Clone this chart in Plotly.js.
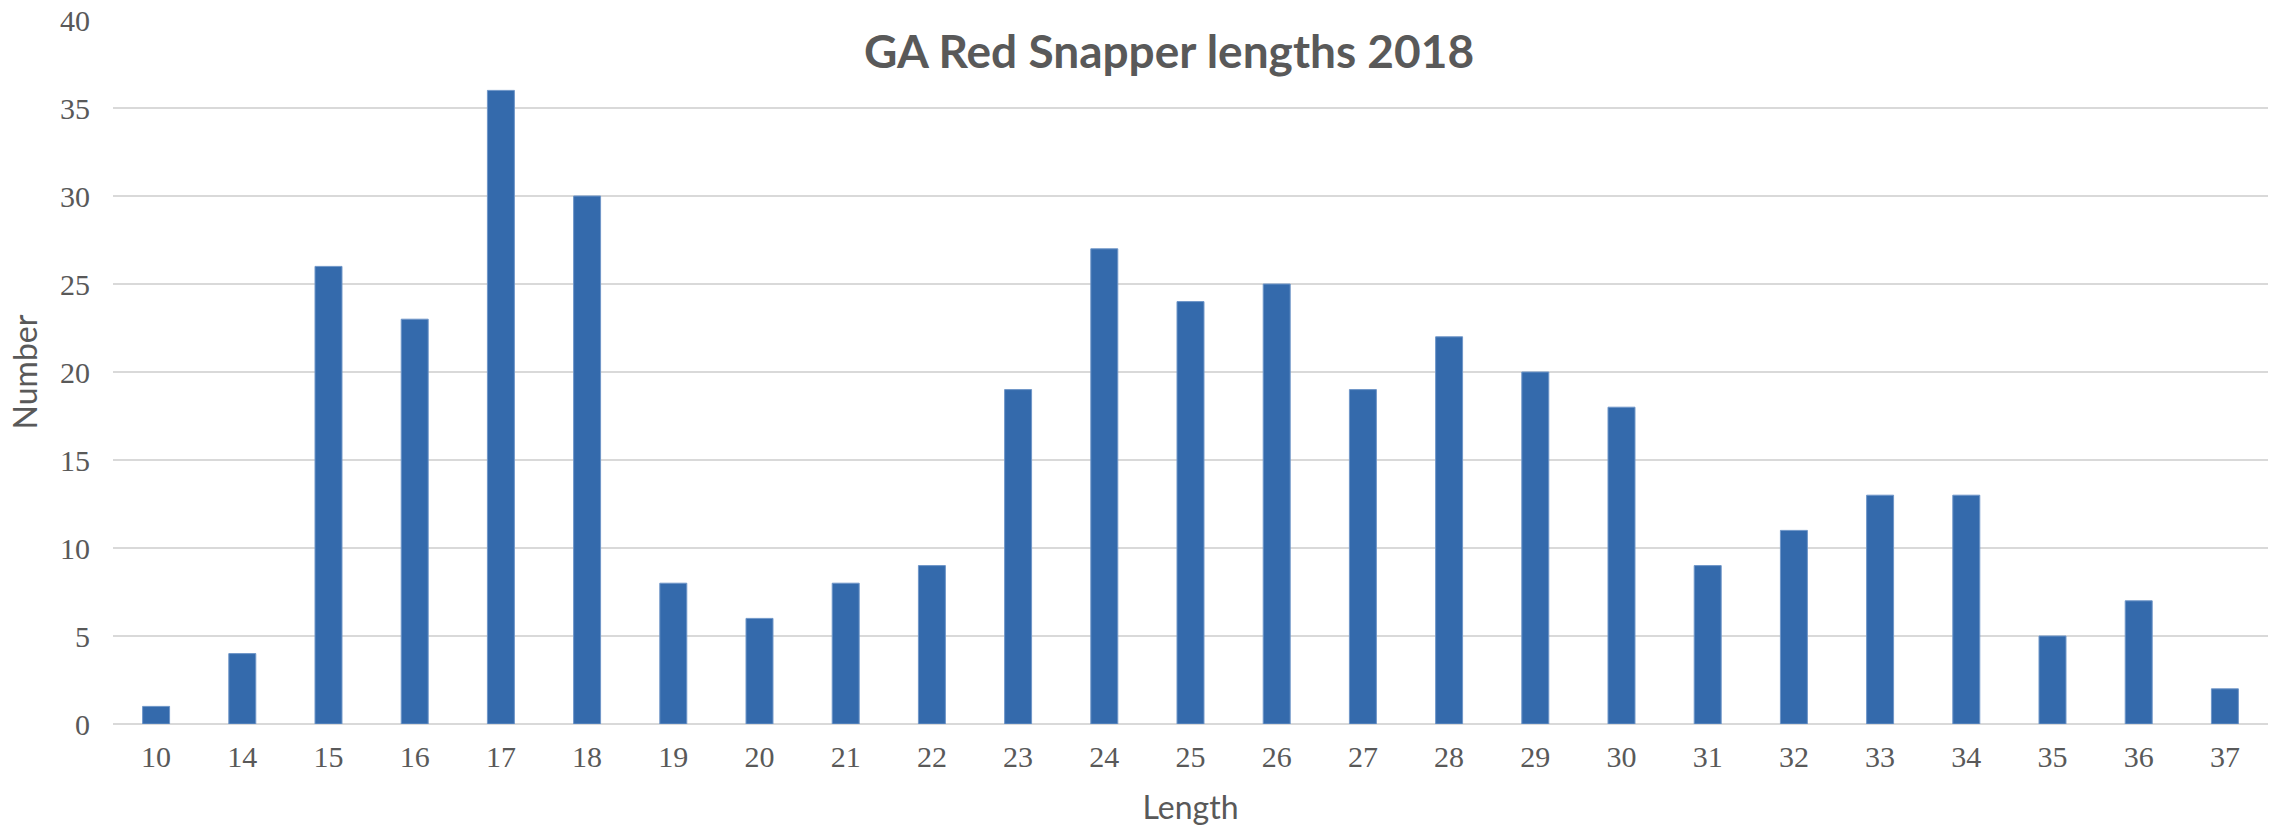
<!DOCTYPE html>
<html>
<head>
<meta charset="utf-8">
<script src="https://cdn.plot.ly/plotly-3.0.1.min.js"></script>
<style>
  html, body { margin: 0; padding: 0; background: #fff; }
  #chart { width: 2275px; height: 828px; }
</style>
</head>
<body>
<div id="chart"></div>
<script>
// fish length (inches) and count
const lengths = ['10', '14', '15', '16', '17', '18', '19', '20', '21', '22', '23', '24', '25',
                 '26', '27', '28', '29', '30', '31', '32', '33', '34', '35', '36', '37'];
const counts = [1, 4, 26, 23, 36, 30, 8, 6, 8, 9, 19, 27, 24,
                25, 19, 22, 20, 18, 9, 11, 13, 13, 5, 7, 2];
const yTicks = [0, 5, 10, 15, 20, 25, 30, 35, 40];

const textGray = '#595959';
const gridGray = '#d9d9d9';

const trace = {
    x: lengths,
    y: counts,
    type: 'bar',
    marker: { color: '#346aac', line: { color: '#6f96c8', width: 1 } },
    hoverinfo: 'x+y'
};

const layout = {
    width: 2275,
    height: 828,
    margin: { l: 113, r: 7, t: 20, b: 104 },
    paper_bgcolor: '#ffffff',
    plot_bgcolor: '#ffffff',
    bargap: 0.687,
    showlegend: false,
    title: {
        text: '<b>GA Red Snapper lengths 2018</b>',
        font: { family: 'Lato, sans-serif', size: 46, color: textGray },
        xref: 'container', x: 1169 / 2275, xanchor: 'center',
        yref: 'container', y: 1 - 52 / 828, yanchor: 'middle'
    },
    xaxis: {
        type: 'category',
        tickfont: { family: 'Liberation Serif, serif', size: 30, color: textGray },
        ticks: '',
        ticklabelstandoff: 12,
        showgrid: false,
        zeroline: false,
        showline: false,
        title: {
            text: 'Length',
            font: { family: 'Lato, sans-serif', size: 32, color: textGray },
            standoff: 24
        }
    },
    yaxis: {
        range: [0, 40],
        tickvals: yTicks,
        tickfont: { family: 'Liberation Serif, serif', size: 30, color: textGray },
        ticks: '',
        ticklabelstandoff: 22,
        showgrid: true,
        gridcolor: gridGray,
        gridwidth: 2,
        zeroline: true,
        zerolinecolor: gridGray,
        zerolinewidth: 2,
        title: {
            text: 'Number',
            font: { family: 'Lato, sans-serif', size: 32, color: textGray },
            standoff: 12
        }
    }
};

Plotly.newPlot('chart', [trace], layout, { displayModeBar: false, staticPlot: true });
</script>
</body>
</html>
